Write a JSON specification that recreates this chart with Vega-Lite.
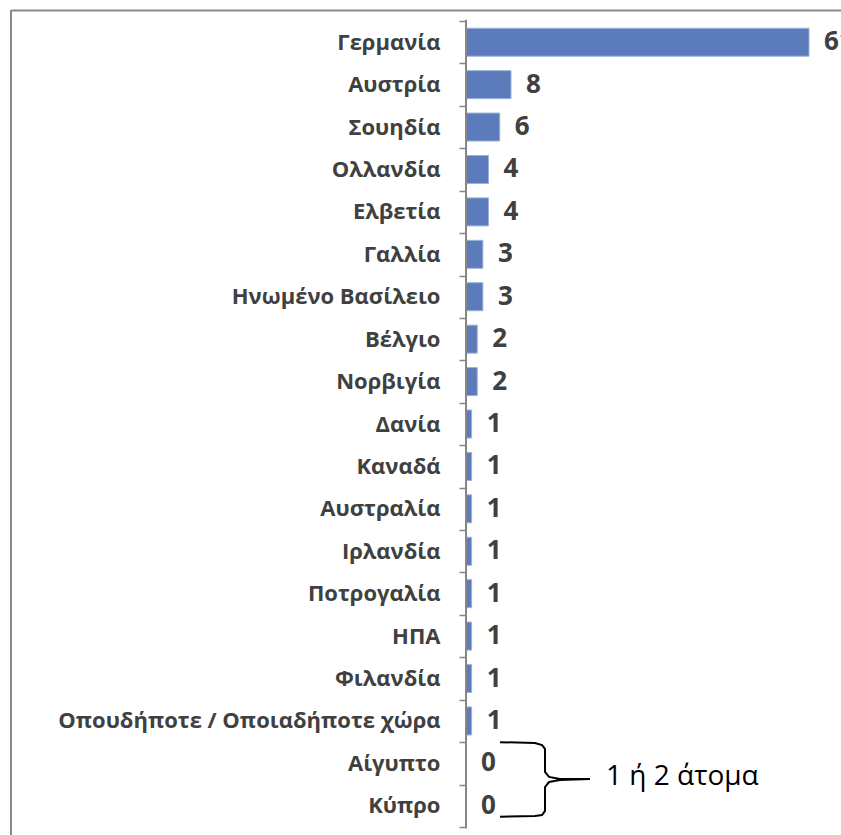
{
  "$schema": "https://vega.github.io/schema/vega-lite/v6.json",
  "width": 830,
  "height": 825,
  "padding": {"left": 11, "top": 10, "right": 0, "bottom": 0},
  "autosize": {"type": "none"},
  "background": "white",
  "config": {"view": {"stroke": null}, "font": "Open Sans"},
  "datasets": {
    "countries": [
      {"country": "Γερμανία", "value": 61},
      {"country": "Αυστρία", "value": 8},
      {"country": "Σουηδία", "value": 6},
      {"country": "Ολλανδία", "value": 4},
      {"country": "Ελβετία", "value": 4},
      {"country": "Γαλλία", "value": 3},
      {"country": "Ηνωμένο Βασίλειο", "value": 3},
      {"country": "Βέλγιο", "value": 2},
      {"country": "Νορβιγία", "value": 2},
      {"country": "Δανία", "value": 1},
      {"country": "Καναδά", "value": 1},
      {"country": "Αυστραλία", "value": 1},
      {"country": "Ιρλανδία", "value": 1},
      {"country": "Ποτρογαλία", "value": 1},
      {"country": "ΗΠΑ", "value": 1},
      {"country": "Φιλανδία", "value": 1},
      {"country": "Οπουδήποτε / Οποιαδήποτε χώρα", "value": 1},
      {"country": "Αίγυπτο", "value": 0},
      {"country": "Κύπρο", "value": 0}
    ],
    "brace": [
      {"i": 1, "x": 6.05, "row": 17.0},
      {"i": 2, "x": 12.27, "row": 17.02},
      {"i": 3, "x": 13.52, "row": 17.07},
      {"i": 4, "x": 14.05, "row": 17.16},
      {"i": 5, "x": 14.05, "row": 17.70},
      {"i": 6, "x": 14.76, "row": 17.82},
      {"i": 7, "x": 16.72, "row": 17.87},
      {"i": 8, "x": 22.05, "row": 17.87},
      {"i": 9, "x": 16.72, "row": 17.89},
      {"i": 10, "x": 14.76, "row": 17.94},
      {"i": 11, "x": 14.05, "row": 18.06},
      {"i": 12, "x": 14.05, "row": 18.62},
      {"i": 13, "x": 13.52, "row": 18.72},
      {"i": 14, "x": 12.27, "row": 18.74},
      {"i": 15, "x": 6.05, "row": 18.76}
    ],
    "note": [{"x": 24.9, "row": 18.0, "text": "1 ή 2 άτομα"}]
  },
  "layer": [
    {
      "data": {"name": "countries"},
      "layer": [
        {
          "mark": {"type": "bar", "fill": "#5B7BBA", "stroke": "#9DB2DA", "strokeWidth": 1, "height": {"band": 0.66}},
          "encoding": {
            "y": {
              "field": "country", "type": "nominal", "sort": null,
              "scale": {"paddingInner": 0, "paddingOuter": 0.224, "align": 0.579},
              "axis": {
                "orient": "left", "offset": -455, "title": null, "grid": false,
                "domain": false,
                "ticks": true, "tickBand": "extent", "tickSize": 7, "tickColor": "#868686", "tickWidth": 1.5,
                "labelPadding": 19, "labelFont": "Open Sans", "labelFontSize": 22, "labelFontWeight": "bold",
                "labelColor": "#404040", "labelLimit": 1000
              }
            },
            "x": {
              "field": "value", "type": "quantitative",
              "scale": {"domain": [-80.92, 66.69], "nice": false, "zero": false},
              "axis": {
                "orient": "top", "title": null, "grid": false, "labels": false, "ticks": false,
                "domain": true, "domainColor": "#898989", "domainWidth": 2
              }
            }
          }
        },
        {
          "mark": {"type": "text", "align": "left", "baseline": "middle", "dx": 15, "font": "Open Sans", "fontWeight": "bold", "fontSize": 26, "color": "#404040"},
          "encoding": {
            "y": {"field": "country", "type": "nominal", "sort": null},
            "x": {"field": "value", "type": "quantitative"},
            "text": {"field": "value", "type": "quantitative"}
          }
        }
      ]
    },
    {
      "data": {"values": [{}]},
      "mark": {"type": "rule", "color": "#898989", "strokeWidth": 2},
      "encoding": {"x": {"datum": -80.92}}
    },
    {
      "data": {"values": [{}]},
      "mark": {"type": "rule", "color": "#868686", "strokeWidth": 2},
      "encoding": {
        "x": {"datum": 0, "type": "quantitative"},
        "y": {"datum": -0.03, "type": "quantitative", "scale": {"domain": [-0.2593, 19.189], "reverse": true, "nice": false, "zero": false}, "axis": null},
        "y2": {"datum": 19.03}
      }
    },
    {
      "data": {"name": "brace"},
      "mark": {"type": "line", "color": "black", "strokeWidth": 2, "interpolate": "linear"},
      "encoding": {
        "x": {"field": "x", "type": "quantitative"},
        "y": {"field": "row", "type": "quantitative", "scale": {"domain": [-0.2593, 19.189], "reverse": true, "nice": false, "zero": false}, "axis": null},
        "order": {"field": "i"}
      }
    },
    {
      "data": {"name": "note"},
      "mark": {"type": "text", "align": "left", "baseline": "alphabetic", "font": "Open Sans", "fontSize": 28, "color": "black"},
      "encoding": {
        "x": {"field": "x", "type": "quantitative"},
        "y": {"field": "row", "type": "quantitative", "scale": {"domain": [-0.2593, 19.189], "reverse": true, "nice": false, "zero": false}, "axis": null},
        "text": {"field": "text"}
      }
    }
  ],
  "resolve": {"scale": {"y": "independent"}}
}
